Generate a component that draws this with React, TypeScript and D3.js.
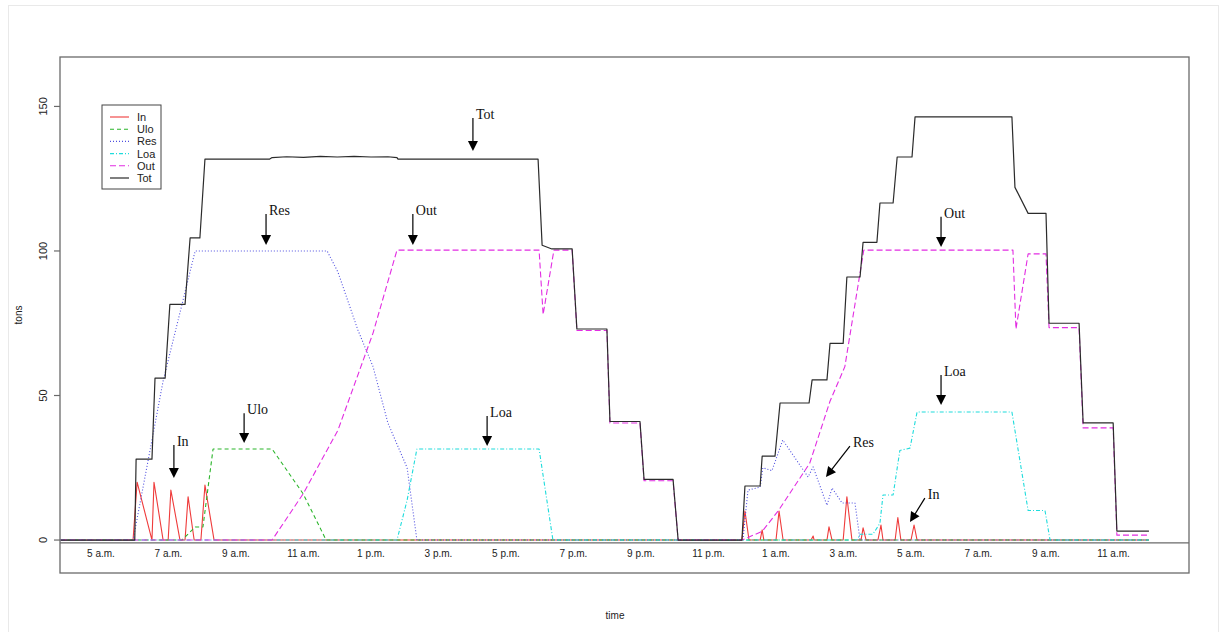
import React from "react";
import * as d3 from "d3";

// ---------- data (hour since midnight of day 1, tons) ----------
const IN_DATA: [number, number][] = [
  [3.8, 0], [5.95, 0], [6.07, 20], [6.51, 0], [6.57, 20], [6.84, 0], [6.99, 0], [7.07, 17.3], [7.34, 0],
  [7.49, 0], [7.58, 15], [7.76, 0], [7.96, 0], [8.08, 19], [8.35, 0], [23.99, 0], [24.08, 10], [24.2, 0],
  [24.53, 0], [24.59, 3.5], [24.64, 0], [25.0, 0], [25.09, 10], [25.21, 0], [26.04, 0], [26.1, 1.4], [26.13, 0],
  [26.51, 0], [26.57, 4.6], [26.66, 0], [26.99, 0], [27.1, 15], [27.25, 0], [27.52, 0], [27.58, 4.2], [27.67, 0],
  [28.02, 0], [28.11, 5.2], [28.17, 0], [28.53, 0], [28.61, 7.8], [28.7, 0], [29.0, 0], [29.09, 5.2], [29.18, 0],
  [36.05, 0],
];
const ULO_DATA: [number, number][] = [
  [3.8, 0], [7.4, 0], [7.79, 4.5], [8.02, 4.5], [8.32, 31.5], [10.07, 31.5], [10.99, 16], [11.67, 0], [36.05, 0],
];
const RES_DATA: [number, number][] = [
  [3.8, 0], [5.95, 0], [6.84, 55], [7.79, 100], [11.7, 100], [12.02, 92.7], [12.61, 72.7], [13.06, 60],
  [13.5, 40.5], [14.07, 25], [14.36, 0], [24.02, 0], [24.17, 17.3], [24.53, 18.3], [24.61, 25], [24.88, 24],
  [25.2, 34.6], [25.95, 21.8], [26.1, 25.3], [26.51, 12], [26.66, 18], [26.96, 12.8], [27.34, 12.8], [27.49, 0],
  [36.05, 0],
];
const LOA_DATA: [number, number][] = [
  [3.8, 0], [13.77, 0], [14.07, 13.8], [14.36, 31.5], [17.98, 31.5], [18.39, 0], [27.4, 0], [27.49, 2],
  [27.87, 2], [28.08, 5.8], [28.17, 15.6], [28.47, 15.6], [28.67, 31], [28.97, 31.8], [29.18, 44.3],
  [31.99, 44.3], [32.47, 10.2], [32.97, 10.2], [33.12, 0], [36.05, 0],
];
const OUT_DATA: [number, number][] = [
  [3.8, 0], [10.07, 0], [10.99, 16], [12.02, 38], [13.06, 71.6], [13.77, 100.3], [17.98, 100.3], [18.1, 78],
  [18.42, 100.3], [18.96, 100.3], [19.1, 72.5], [19.99, 72.5], [20.08, 40.5], [20.97, 40.5], [21.09, 20.5],
  [21.95, 20.5], [22.1, 0], [23.99, 0], [24.59, 3], [25.06, 10], [26.0, 26.6], [26.6, 48], [27.04, 60],
  [27.6, 100.3], [32.02, 100.3], [32.11, 73], [32.47, 99], [33.0, 99], [33.09, 73.5], [33.98, 73.5],
  [34.1, 38.8], [34.99, 38.8], [35.1, 1.7], [36.05, 1.7],
];
const TOT_DATA: [number, number][] = [
  [3.8, 0], [6.0, 0], [6.04, 28], [6.51, 28], [6.6, 56], [6.9, 56], [7.04, 81.5], [7.49, 81.5], [7.64, 104.5],
  [7.93, 104.5], [8.08, 131.8], [10.0, 131.8], [10.07, 132.3], [10.5, 132.6], [11.0, 132.4], [11.5, 132.7],
  [12.0, 132.5], [12.5, 132.7], [13.0, 132.5], [13.5, 132.6], [13.77, 132.3], [13.8, 131.8], [17.95, 131.8],
  [18.07, 102], [18.36, 100.7], [18.96, 100.7], [19.1, 73], [19.99, 73], [20.08, 41], [20.97, 41], [21.09, 21],
  [21.95, 21], [22.1, 0], [23.99, 0], [24.08, 18.7], [24.53, 18.7], [24.59, 29], [24.97, 29], [25.12, 47.4],
  [25.98, 47.4], [26.07, 55.4], [26.51, 55.4], [26.6, 68], [26.99, 68], [27.1, 91], [27.49, 91], [27.58, 103],
  [27.99, 103], [28.08, 116.6], [28.47, 116.6], [28.59, 132.5], [29.03, 132.5], [29.12, 146.4], [31.99, 146.4],
  [32.08, 122], [32.47, 113], [33.0, 113], [33.09, 75], [33.98, 75], [34.1, 40.5], [34.99, 40.5], [35.1, 3.1],
  [36.05, 3.1],
];

const SERIES_NAMES = ["In", "Ulo", "Res", "Loa", "Out", "Tot"];
const SERIES_DATA = [IN_DATA, ULO_DATA, RES_DATA, LOA_DATA, OUT_DATA, TOT_DATA];

const X_TICK_HOURS = [5, 7, 9, 11, 13, 15, 17, 19, 21, 23, 25, 27, 29, 31, 33, 35];
const X_TICK_LABELS = [
  "5 a.m.", "7 a.m.", "9 a.m.", "11 a.m.", "1 p.m.", "3 p.m.", "5 p.m.", "7 p.m.",
  "9 p.m.", "11 p.m.", "1 a.m.", "3 a.m.", "5 a.m.", "7 a.m.", "9 a.m.", "11 a.m.",
];
const Y_TICKS = [0, 50, 100, 150];

// annotation arrows: label, arrow start (hour, tons), arrow tip (hour, tons)
const ANNOT_LABELS = ["Tot", "Res", "Out", "In", "Ulo", "Loa", "Out", "Loa", "Res", "In"];
const ANNOT_FROM: [number, number][] = [
  [16.02, 146], [9.89, 112.8], [14.24, 112.8], [7.16, 32.9], [9.24, 43.9], [16.44, 42.9],
  [29.89, 111.8], [29.89, 57.1], [27.19, 32.5], [29.41, 14.5],
];
const ANNOT_TO: [number, number][] = [
  [16.02, 134.6], [9.89, 102.1], [14.24, 102.1], [7.16, 21.5], [9.24, 33.6], [16.44, 32.5],
  [29.89, 101.4], [29.89, 46.7], [26.48, 21.8], [28.97, 6.2],
];

// ---------- styles ----------
const STYLE: Record<string, { color: string; dash: string; width: number }> = {
  In: { color: "#ef3b3b", dash: "none", width: 1.1 },
  Ulo: { color: "#2bb52b", dash: "4,3", width: 1.1 },
  Res: { color: "#4f4fe0", dash: "1,2", width: 1.1 },
  Loa: { color: "#1fdcdc", dash: "4,2,1,2", width: 1.1 },
  Out: { color: "#e22de2", dash: "6,3", width: 1.1 },
  Tot: { color: "#2b2b2b", dash: "none", width: 1.2 },
};

const PLOT = { left: 60, top: 57, right: 1189, bottom: 573 };

export default function App() {
  const x = d3.scaleLinear().domain([3.785, 37.237]).range([PLOT.left, PLOT.right]);
  const y = d3.scaleLinear().domain([-11.4, 167.1]).range([PLOT.bottom, PLOT.top]);
  const line = d3
    .line<[number, number]>()
    .x((d) => x(d[0]))
    .y((d) => y(d[1]));

  const axisY = y(-1);

  const arrowHead = (x1: number, y1: number, x2: number, y2: number) => {
    const dx = x2 - x1, dy = y2 - y1;
    const L = Math.hypot(dx, dy) || 1;
    const ux = dx / L, uy = dy / L;
    const len = 10, hw = 5;
    const bx = x2 - ux * len, by = y2 - uy * len;
    const px = -uy, py = ux;
    return `${x2},${y2} ${bx + px * hw},${by + py * hw} ${bx - px * hw},${by - py * hw}`;
  };

  const legend = { x: 102, y: 105, w: 59, h: 84, row: 12.2 };

  return (
    <svg
      width={1226}
      height={632}
      style={{ position: "absolute", left: 0, top: 0, background: "#fff" }}
      fontFamily="'Liberation Sans', Arial, sans-serif"
    >
      <rect x={8.5} y={5.5} width={1210} height={640} fill="none" stroke="#e9e9e9" strokeWidth={1} />
      <defs>
        <clipPath id="plotclip">
          <rect x={PLOT.left} y={PLOT.top} width={PLOT.right - PLOT.left} height={PLOT.bottom - PLOT.top} />
        </clipPath>
      </defs>

      {/* data lines */}
      <g clipPath="url(#plotclip)">
        {SERIES_NAMES.map((name, i) => (
          <path
            key={name}
            d={line(SERIES_DATA[i]) || ""}
            fill="none"
            stroke={STYLE[name].color}
            strokeWidth={STYLE[name].width}
            strokeDasharray={STYLE[name].dash}
            strokeLinejoin="round"
          />
        ))}
      </g>

      {/* x axis line inside plot */}
      <line x1={PLOT.left} x2={PLOT.right} y1={axisY} y2={axisY} stroke="#6a6a6a" strokeWidth={1.2} />

      {/* frame */}
      <rect
        x={PLOT.left}
        y={PLOT.top}
        width={PLOT.right - PLOT.left}
        height={PLOT.bottom - PLOT.top}
        fill="none"
        stroke="#6a6a6a"
        strokeWidth={1.3}
      />

      {/* x tick labels */}
      {X_TICK_HOURS.map((h, i) => (
        <text key={i} x={x(h)} y={557} fontSize={10} textAnchor="middle" fill="#222">
          {X_TICK_LABELS[i]}
        </text>
      ))}

      {/* y ticks */}
      {Y_TICKS.map((v) => (
        <g key={v}>
          <line x1={PLOT.left - 6} x2={PLOT.left} y1={y(v)} y2={y(v)} stroke="#6a6a6a" strokeWidth={1.2} />
          <text
            transform={`translate(${47},${y(v)}) rotate(-90)`}
            fontSize={11}
            textAnchor="middle"
            fill="#222"
          >
            {v}
          </text>
        </g>
      ))}

      <text transform={`translate(22,315) rotate(-90)`} fontSize={10} textAnchor="middle" fill="#222">
        tons
      </text>
      <text x={615} y={619} fontSize={10} textAnchor="middle" fill="#222">
        time
      </text>

      {/* legend */}
      <rect x={legend.x} y={legend.y} width={legend.w} height={legend.h} fill="#fff" stroke="#444" strokeWidth={1} />
      {SERIES_NAMES.map((name, i) => {
        const ry = legend.y + 12 + i * legend.row;
        return (
          <g key={name}>
            <line
              x1={110}
              x2={129}
              y1={ry}
              y2={ry}
              stroke={STYLE[name].color}
              strokeWidth={STYLE[name].width}
              strokeDasharray={STYLE[name].dash}
            />
            <text x={137} y={ry + 4} fontSize={11} fill="#222">
              {name}
            </text>
          </g>
        );
      })}

      {/* annotations */}
      {ANNOT_LABELS.map((lab, i) => {
        const x1 = x(ANNOT_FROM[i][0]), y1 = y(ANNOT_FROM[i][1]);
        const x2 = x(ANNOT_TO[i][0]), y2 = y(ANNOT_TO[i][1]);
        const L = Math.hypot(x2 - x1, y2 - y1);
        const ex = x2 - ((x2 - x1) / L) * 8, ey = y2 - ((y2 - y1) / L) * 8;
        return (
          <g key={i}>
            <line x1={x1} y1={y1} x2={ex} y2={ey} stroke="#000" strokeWidth={1.2} />
            <polygon points={arrowHead(x1, y1, x2, y2)} fill="#000" />
            <text x={x1 + 3} y={y1 + 1} fontSize={14} fontFamily="'Liberation Serif', 'Times New Roman', serif" fill="#111">
              {lab}
            </text>
          </g>
        );
      })}
    </svg>
  );
}
